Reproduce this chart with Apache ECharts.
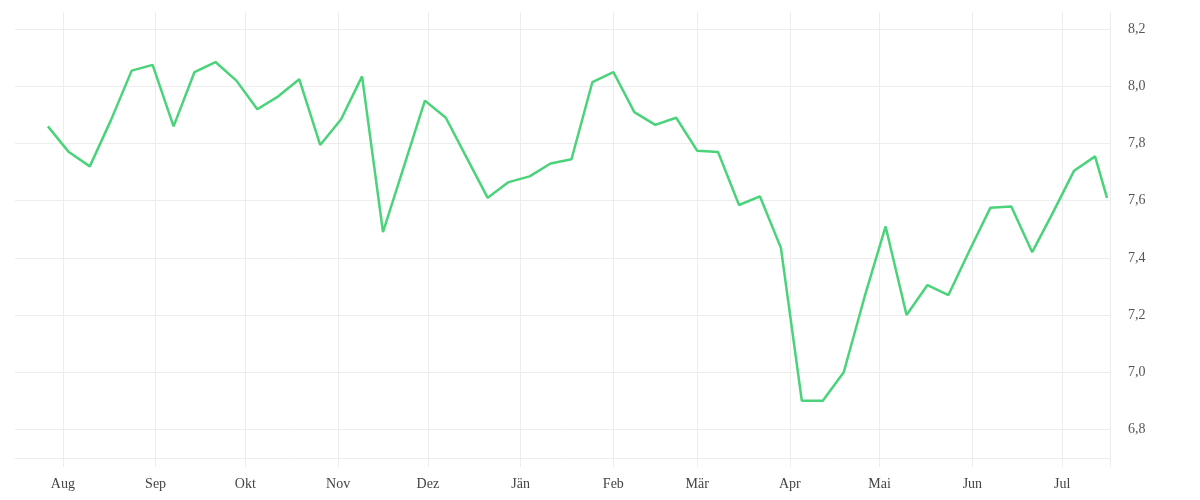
<!DOCTYPE html>
<html>
<head>
<meta charset="utf-8">
<title>Wochenverlauf</title>
<script src="https://cdn.jsdelivr.net/npm/echarts@6/dist/echarts.min.js"></script>
<style>
  html, body { margin: 0; padding: 0; background: #fff; }
  #chart { width: 1200px; height: 500px; }
</style>
</head>
<body>
<div id="chart"></div>
<script>
// Wochenwerte
const dates = [
  '2022-07-27', '2022-08-03', '2022-08-10', '2022-08-17', '2022-08-24', '2022-08-31',
  '2022-09-07', '2022-09-14', '2022-09-21', '2022-09-28',
  '2022-10-05', '2022-10-12', '2022-10-19', '2022-10-26',
  '2022-11-02', '2022-11-09', '2022-11-16', '2022-11-23', '2022-11-30',
  '2022-12-07', '2022-12-14', '2022-12-21', '2022-12-28',
  '2023-01-04', '2023-01-11', '2023-01-18', '2023-01-25',
  '2023-02-01', '2023-02-08', '2023-02-15', '2023-02-22',
  '2023-03-01', '2023-03-08', '2023-03-15', '2023-03-22', '2023-03-29',
  '2023-04-05', '2023-04-12', '2023-04-19', '2023-04-26',
  '2023-05-03', '2023-05-10', '2023-05-17', '2023-05-24', '2023-05-31',
  '2023-06-07', '2023-06-14', '2023-06-21', '2023-06-28',
  '2023-07-05', '2023-07-12', '2023-07-16'
]
const values = [
  7.86, 7.77, 7.72, 7.88, 8.055, 8.075,
  7.86, 8.05, 8.085, 8.02,
  7.92, 7.965, 8.025, 7.795,
  7.885, 8.035, 7.49, 7.72, 7.95,
  7.89, 7.75, 7.61, 7.665,
  7.685, 7.73, 7.745, 8.015,
  8.05, 7.91, 7.865, 7.89,
  7.775, 7.77, 7.585, 7.615, 7.435,
  6.90, 6.90, 7.00, 7.265,
  7.51, 7.20, 7.305, 7.27, 7.425,
  7.575, 7.58, 7.42, 7.56,
  7.705, 7.755, 7.61
]
// Achsen
const monthStarts = [
  '2022-08-01', '2022-09-01', '2022-10-01', '2022-11-01', '2022-12-01',
  '2023-01-01', '2023-02-01', '2023-03-01', '2023-04-01', '2023-05-01',
  '2023-06-01', '2023-07-01'
]
const monthNames = ['Jän', 'Feb', 'Mär', 'Apr', 'Mai', 'Jun', 'Jul', 'Aug', 'Sep', 'Okt', 'Nov', 'Dez']
const xMin = '2022-07-16'
const xMax = '2023-07-17'
const yTicks = [6.8, 7.0, 7.2, 7.4, 7.6, 7.8, 8.0, 8.2]
const yMin = 6.7
const yMax = 8.26

const ts = d => new Date(d + 'T00:00:00').getTime()
const gridColor = '#ededed'
const fontFamily = '"Liberation Serif", serif'

let myChart = echarts.init(document.getElementById('chart'))

// Zeitachse als Zahlenachse (Zeitstempel), damit die Monatslinien genau sitzen
myChart.setOption({
  animation: false,
  grid: { left: 15, right: 90, top: 12, bottom: 42 },
  xAxis: {
    type: 'value',
    min: ts(xMin),
    max: ts(xMax),
    axisLine: { show: true, onZero: false, lineStyle: { color: gridColor, width: 1 } },
    axisTick: {
      show: true,
      length: 9,
      lineStyle: { color: gridColor, width: 1 },
      customValues: monthStarts.map(ts).concat([ts(xMax)])
    },
    axisLabel: {
      customValues: monthStarts.map(ts),
      formatter: v => monthNames[new Date(v).getMonth()],
      color: '#444',
      fontFamily: fontFamily,
      fontSize: 14,
      margin: 19
    },
    splitLine: { show: true, lineStyle: { color: gridColor, width: 1 } }
  },
  yAxis: {
    type: 'value',
    position: 'right',
    min: yMin,
    max: yMax,
    axisLine: { show: false },
    axisTick: { show: false, customValues: yTicks },
    axisLabel: {
      customValues: yTicks,
      formatter: v => v.toFixed(1).replace('.', ','),
      color: '#555',
      fontFamily: fontFamily,
      fontSize: 14,
      margin: 18,
      padding: [7, 0, 0, 0]
    },
    splitLine: { show: true, lineStyle: { color: gridColor, width: 1 } }
  },
  series: [{
    type: 'line',
    data: dates.map((d, i) => [ts(d), values[i]]),
    showSymbol: false,
    lineStyle: { color: '#4ad37a', width: 2.5 },
    itemStyle: { color: '#4ad37a' }
  }]
})
window.onresize = function () {
  myChart.resize()
}
</script>
</body>
</html>
